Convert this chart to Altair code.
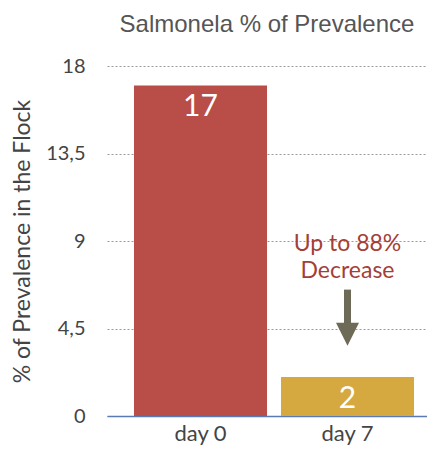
import altair as alt
import pandas as pd

days = ["day 0", "day 7"]
prevalence = [17, 2]
bar_colors = ["#b84e47", "#d5a93f"]
y_ticks = [0, 4.5, 9, 13.5, 18]

annotation_text = ["Up to 88%", "Decrease"]
annotation_day = "day 7"
annotation_y = 8.85
arrow_top = 6.5
arrow_bottom = 4.4
arrow_head_y = 4.2

bars_df = pd.DataFrame({"day": days, "value": prevalence, "color": bar_colors})
ann_df = pd.DataFrame({"day": [annotation_day], "y": [annotation_y],
                       "y1": [arrow_top], "y2": [arrow_bottom], "yh": [arrow_head_y]})

FONT = "Lato"

x_enc = alt.X("day:N", sort=days,
              scale=alt.Scale(paddingInner=0.095, paddingOuter=0.136, align=0.675),
              axis=alt.Axis(title=None, labelAngle=0, labelFont=FONT, labelFontSize=22,
                            labelColor="#444", ticks=False, labelPadding=7,
                            domainColor="#5b7bb5", domainWidth=1.5, grid=False))
y_scale = alt.Scale(domain=[0, 18], nice=False)

bars = alt.Chart(bars_df).mark_bar().encode(
    x=x_enc,
    y=alt.Y("value:Q", scale=y_scale,
            axis=alt.Axis(values=y_ticks, title="% of Prevalence in the Flock",
                          titleFont=FONT, titleFontSize=23, titleFontWeight="normal",
                          titleColor="#444", titlePadding=11,
                          labelFont=FONT, labelFontSize=20, labelColor="#444",
                          labelPadding=22, ticks=False, domain=False,
                          labelExpr="replace(format(datum.value, '~g'), '.', ',')",
                          grid=True, gridColor="#9a9a9a", gridDash=[2, 2], gridWidth=1)),
    color=alt.Color("color:N", scale=None),
)

bar_labels = alt.Chart(bars_df).mark_text(
    color="white", font=FONT, fontSize=30, baseline="middle", dy=22
).encode(x=alt.X("day:N", sort=days), y=alt.Y("value:Q", scale=y_scale), text="value:Q")

ann_text = alt.Chart(ann_df).mark_text(
    color="#a33f38", font=FONT, fontSize=23, baseline="middle", lineHeight=27
).encode(x=alt.X("day:N", sort=days), y=alt.Y("y:Q", scale=y_scale),
         text=alt.value(annotation_text))

shaft = alt.Chart(ann_df).mark_rule(color="#6e6a58", strokeWidth=7).encode(
    x=alt.X("day:N", sort=days), y=alt.Y("y1:Q", scale=y_scale), y2="y2:Q")

head = alt.Chart(ann_df).mark_point(
    shape="M-1,-1L1,-1L0,1Z", filled=True, color="#6e6a58", opacity=1, size=529
).encode(x=alt.X("day:N", sort=days), y=alt.Y("yh:Q", scale=y_scale))

chart = alt.layer(bars, bar_labels, ann_text, shaft, head).properties(
    width=320, height=350,
    title=alt.TitleParams("Salmonela % of Prevalence", font="Liberation Sans",
                          fontSize=24, fontWeight="normal", color="#555", offset=19),
    autosize=alt.AutoSizeParams(type="none"),
    padding={"left": 99, "top": 58, "right": 0, "bottom": 30},
).configure_view(stroke=None)

chart.save("out.html", embed_options={"renderer": "svg", "actions": False})
